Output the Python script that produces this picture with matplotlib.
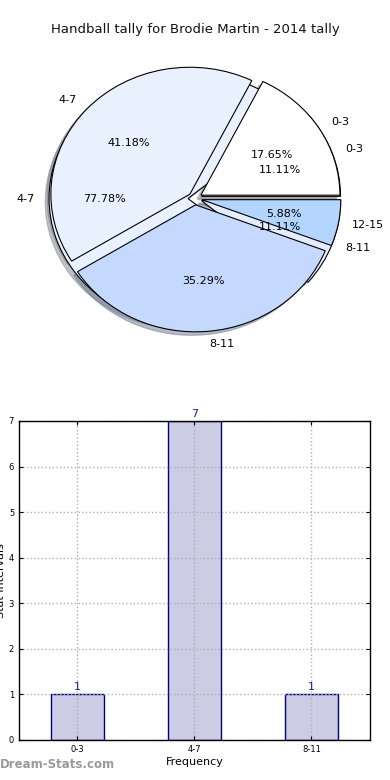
import matplotlib
matplotlib.use("Agg")
import matplotlib.pyplot as plt

TITLE = "Handball tally for Brodie Martin - 2014 tally"

# pie drawn underneath (player tally)
pie_under_labels = ["0-3", "4-7", "8-11"]
pie_under_values = [1, 7, 1]
pie_under_colors = ["#ffffff", "#eaf1fe", "#e4edfe"]

# pie drawn on top (full tally)
pie_top_labels = ["0-3", "4-7", "8-11", "12-15"]
pie_top_values = [3, 7, 6, 1]
pie_top_colors = ["#ffffff", "#eaf1fe", "#c5d8fe", "#b3d4fe"]

# bar chart
bar_labels = ["0-3", "4-7", "8-11"]
bar_values = [1, 7, 1]

fig = plt.figure(figsize=(3.9, 7.8), dpi=100)
fig.text(0.5, 0.962, TITLE, ha="center", va="center", fontsize=9.5, color="#111111")

ax1 = fig.add_axes([0.0545, 0.542, 0.891, 0.407])
for vals, labs, cols in [(pie_under_values, pie_under_labels, pie_under_colors),
                         (pie_top_values, pie_top_labels, pie_top_colors)]:
    wedges, texts, autotexts = ax1.pie(
        vals, labels=labs, colors=cols, explode=[0.05] * len(vals),
        autopct="%1.2f%%", shadow=dict(ox=-0.02, oy=-0.02, shade=0.45),
        startangle=0,
        wedgeprops=dict(edgecolor="black", linewidth=0.8),
        textprops=dict(fontsize=8))
ax1.set_aspect("auto")
ax1.set_xlim(-1.25, 1.25)
ax1.set_ylim(-1.25, 1.25)

ax2 = fig.add_axes([0.0487, 0.0513, 0.9, 0.409])
x = range(len(bar_values))
bars = ax2.bar(x, bar_values, width=0.45, color="#ccccE5", edgecolor="#000080",
               linewidth=1, zorder=1)
for xi, v in zip(x, bar_values):
    ax2.text(xi, v + 0.05, str(v), ha="center", va="bottom", fontsize=8, color="#1a1a8c")
ax2.set_xlim(-0.5, 2.5)
ax2.set_ylim(0, 7)
ax2.set_xticks(list(x))
ax2.set_xticklabels(bar_labels)
ax2.set_yticks(range(8))
ax2.tick_params(direction="in", top=True, right=True, labelsize=6, length=3)
ax2.set_axisbelow("line")
ax2.grid(True, linestyle=":", color="#b0b0b0", linewidth=1)
for s in ax2.spines.values():
    s.set_linewidth(1)
ax2.set_xlabel("Frequency", fontsize=8, labelpad=2)
ax2.set_ylabel("Stat Intervals", fontsize=8, labelpad=2)

fig.text(0.0, 0.012, "Dream-Stats.com", fontsize=8.5, color="#999999",
         fontweight="bold", ha="left", va="bottom")

fig.savefig("out.png", dpi=100)
